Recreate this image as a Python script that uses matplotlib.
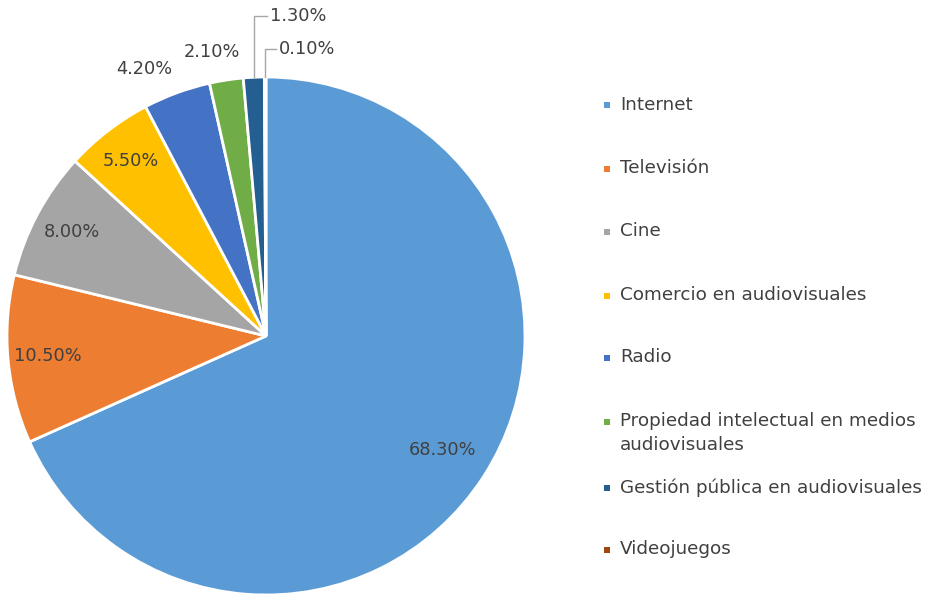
import numpy as np
import matplotlib.pyplot as plt
from matplotlib.patches import Rectangle

plt.rcParams["font.family"] = ["DejaVu Sans"]

categories = [
    "Internet",
    "Televisión",
    "Cine",
    "Comercio en audiovisuales",
    "Radio",
    "Propiedad intelectual en medios\naudiovisuales",
    "Gestión pública en audiovisuales",
    "Videojuegos",
]
shares = [68.3, 10.5, 8.0, 5.5, 4.2, 2.1, 1.3, 0.1]
colors = ["#5B9BD5", "#ED7D31", "#A5A5A5", "#FFC000",
          "#4472C4", "#70AD47", "#255E91", "#9E480E"]

W, H = 931, 596
TEXT = "#404040"
FS = 12.8
LEG_FS = 13.2

fig = plt.figure(figsize=(W / 100, H / 100), dpi=100)
# pie centre ~ (266, 336) px, radius ~ 259 px
cx, cy, r = 266, 336, 259
ax = fig.add_axes([(cx - r) / W, 1 - (cy + r) / H, 2 * r / W, 2 * r / H])

wedges, _ = ax.pie(shares, colors=colors, startangle=90, counterclock=False,
                   radius=1, wedgeprops=dict(edgecolor="white", linewidth=2))
ax.set_xlim(-1, 1)
ax.set_ylim(-1, 1)
ax.set_aspect("equal")
ax.axis("off")


def mid_angle(w):
    return np.deg2rad((w.theta1 + w.theta2) / 2)


# inside labels
for i, d in [(0, 0.81), (1, 0.845), (2, 0.85), (3, 0.855)]:
    a = mid_angle(wedges[i])
    ax.text(d * np.cos(a), d * np.sin(a), f"{shares[i]:.2f}%",
            ha="center", va="center", fontsize=FS, color=TEXT)

# outside labels (Radio, Propiedad)
for i, d, dx in [(4, 1.1, -0.09), (5, 1.11, -0.04)]:
    a = mid_angle(wedges[i])
    ax.text(d * np.cos(a) + dx, d * np.sin(a), f"{shares[i]:.2f}%",
            ha="center", va="center", fontsize=FS, color=TEXT, clip_on=False)

# leader-line labels (Gestión, Videojuegos)
for i, ly, lx in [(6, 1.235, 0.005), (7, 1.11, 0.04)]:
    a = mid_angle(wedges[i])
    x0, y0 = np.cos(a), np.sin(a)
    ax.plot([x0, x0, lx], [y0, ly, ly], color="#A6A6A6", lw=1, clip_on=False)
    ax.text(lx + 0.01, ly, f"{shares[i]:.2f}%", ha="left", va="center",
            fontsize=FS, color=TEXT, clip_on=False)

# legend
leg_y = [105, 169, 232, 296, 358, 422, 488, 550]
mx, tx = 607, 620
for lab, col, y in zip(categories, colors, leg_y):
    s = 6
    fig.patches.append(Rectangle(((mx - s / 2) / W, 1 - (y + s / 2) / H),
                                 s / W, s / H, transform=fig.transFigure,
                                 facecolor=col, edgecolor="none"))
    fig.text(tx / W, 1 - (y - 9.5) / H, lab, ha="left", va="top",
             fontsize=LEG_FS, color=TEXT, linespacing=1.4)

fig.savefig("out.png", dpi=100)
